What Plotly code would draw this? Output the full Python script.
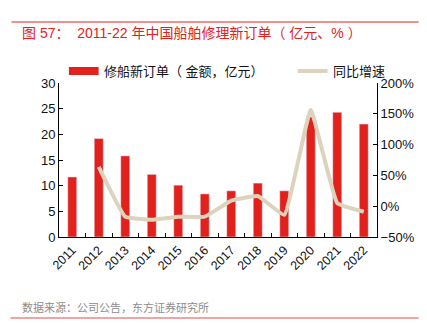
import plotly.graph_objects as go

years = ["2011", "2012", "2013", "2014", "2015", "2016", "2017", "2018", "2019", "2020", "2021", "2022"]
orders = [11.7, 19.2, 15.8, 12.2, 10.1, 8.4, 9.0, 10.5, 9.0, 23.4, 24.3, 22.0]
growth_years = years[1:]
growth = [64, -17, -22, -17, -17, 9, 16.5, -14, 156, 5, -9]

W, H = 427, 323
L, R, T, B = 59, 380, 83, 237

def px(x):
    return (x - L) / (R - L)

def py(y):
    return (B - y) / (B - T)

RED = "#E3211C"
BEIGE = "#DDD3BD"
FONT = "Liberation Sans, Noto Sans CJK SC, sans-serif"
CJK = "Liberation Sans, Noto Sans CJK SC, sans-serif"

fig = go.Figure()
fig.add_trace(go.Bar(x=years, y=orders, marker_color=RED, width=0.34, name="修船新订单（金额，亿元）"))
fig.add_trace(go.Scatter(x=growth_years, y=growth, yaxis="y2", mode="lines",
                         line=dict(color=BEIGE, width=4, shape="spline", smoothing=0.3),
                         name="同比增速"))

fig.update_layout(
    width=W, height=H,
    margin=dict(l=L, r=W - R, t=T, b=H - B),
    paper_bgcolor="white", plot_bgcolor="white",
    showlegend=False,
    font=dict(family=FONT, size=12, color="#111"),
    xaxis=dict(type="category", showline=True, linecolor="black", linewidth=1, mirror=False,
               ticks="inside", tickson="boundaries", ticklen=4, tickcolor="black",
               tickangle=-45, tickfont=dict(size=12.5), showgrid=False),
    yaxis=dict(range=[0, 30], dtick=5, showline=True, linecolor="black", linewidth=1,
               ticks="inside", ticklen=4, tickcolor="black", showgrid=False, zeroline=False,
               tickfont=dict(size=13)),
    yaxis2=dict(range=[-50, 200], dtick=50, overlaying="y", side="right", showline=True,
                linecolor="black", linewidth=1, ticks="inside", ticklen=4, tickcolor="black",
                showgrid=False, zeroline=False, ticksuffix="%", tickfont=dict(size=13)),
)

shapes = [
    dict(type="line", xref="paper", yref="paper", x0=px(11), x1=px(422), y0=py(22), y1=py(22),
         line=dict(color=RED, width=1)),
    dict(type="line", xref="paper", yref="paper", x0=px(10), x1=px(422), y0=py(318), y1=py(318),
         line=dict(color="#F2A3A3", width=2)),
    dict(type="rect", xref="paper", yref="paper", x0=px(69), x1=px(99), y0=py(67), y1=py(75),
         fillcolor=RED, line=dict(width=0)),
    dict(type="line", xref="paper", yref="paper", x0=px(300), x1=px(330), y0=py(71), y1=py(71),
         line=dict(color=BEIGE, width=4)),
]
fig.update_layout(shapes=shapes)

ann = [
    dict(text="图 57：  2011-22 年中国船舶修理新订单（ 亿元、% ）", x=px(20), y=py(33),
         font=dict(family=CJK, size=14, color=RED)),
    dict(text="修船新订单（ 金额，亿元）", x=px(102), y=py(71), font=dict(family=CJK, size=13, color="#111")),
    dict(text="同比增速", x=px(334), y=py(71), font=dict(family=CJK, size=13, color="#111")),
    dict(text="数据来源：公司公告，东方证券研究所", x=px(20), y=py(307),
         font=dict(family=CJK, size=11, color="#8C8C8C")),
]
for a in ann:
    a.update(xref="paper", yref="paper", xanchor="left", yanchor="middle", showarrow=False)
fig.update_layout(annotations=ann)

fig.write_html("out.html")
